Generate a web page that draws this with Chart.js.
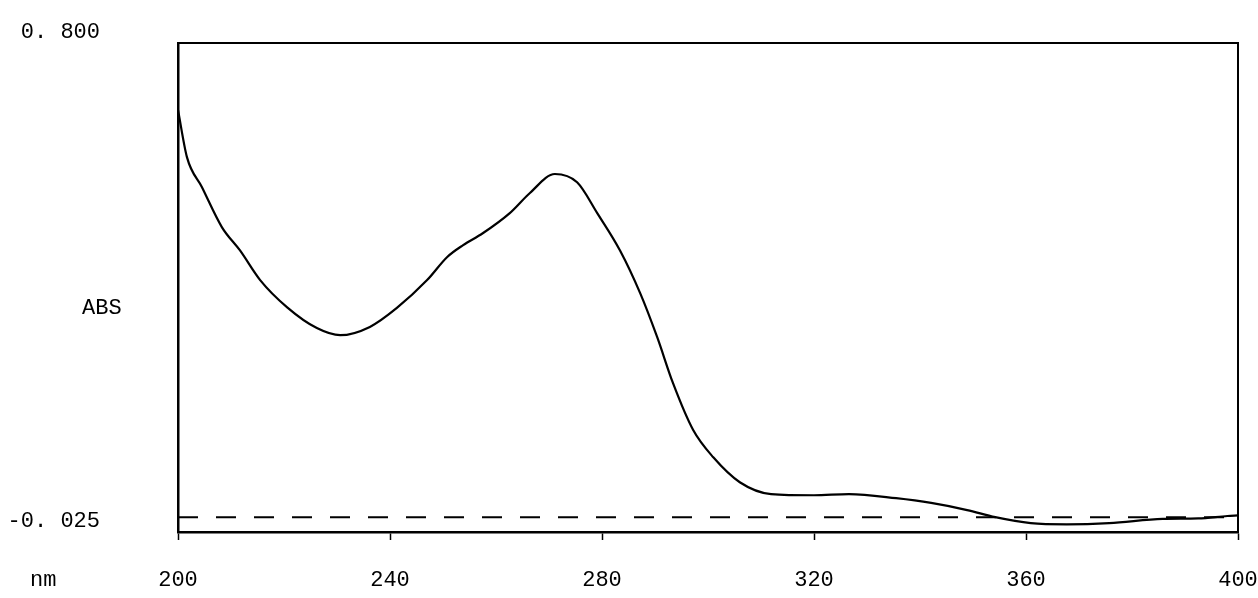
<!DOCTYPE html>
<html>
<head>
<meta charset="utf-8">
<script src="https://cdn.jsdelivr.net/npm/chart.js@4.4.1/dist/chart.umd.min.js"></script>
<style>
  html, body { margin: 0; padding: 0; background: #fff; }
  #wrap { width: 1258px; height: 598px; }
</style>
</head>
<body>
<div id="wrap"><canvas id="spectro"></canvas></div>
<script>
const longueurs = [200, 201.7, 204.5, 208.3, 211.7, 215.5, 220.6, 226.2, 230.6, 236.2, 241.3, 247, 250.8, 253.8, 257.5, 262.6, 266.4, 271.1, 275.3, 279.1, 283.4, 287.2, 290.4, 293.4, 297.2, 301, 306, 311.9, 320, 326.6, 335.5, 342.1, 348.9, 354.2, 360.9, 367.7, 375.7, 385.8, 392.5, 398, 400];
const absorbance = [0.687, 0.607, 0.557, 0.489, 0.45, 0.4, 0.354, 0.319, 0.307, 0.321, 0.353, 0.4, 0.439, 0.459, 0.479, 0.513, 0.547, 0.579, 0.565, 0.513, 0.45, 0.378, 0.304, 0.226, 0.147, 0.101, 0.059, 0.039, 0.037, 0.039, 0.032, 0.024, 0.012, 0.0, -0.01, -0.012, -0.01, -0.003, -0.002, 0.002, 0.003];
const ligneBase = [0, 0];
const ticksX = [200, 240, 280, 320, 360, 400];
const ticksY = [-0.025, 0.8];
const rotulosY = { "-0.025": "-0. 025", "0.8": "0. 800" };

const fonte = { family: "'Liberation Mono', 'DejaVu Sans Mono', monospace", size: 22 };

const moldura = {
  id: 'moldura',
  afterDraw(chart) {
    const { ctx, chartArea: a } = chart;
    ctx.save();
    ctx.strokeStyle = '#000';
    ctx.lineWidth = 2;
    ctx.beginPath();
    ctx.moveTo(a.left, a.top);
    ctx.lineTo(a.right, a.top);
    ctx.lineTo(a.right, a.bottom);
    ctx.stroke();
    ctx.fillStyle = '#000';
    ctx.font = fonte.size + "px " + fonte.family;
    ctx.textBaseline = 'middle';
    ctx.textAlign = 'left';
    ctx.fillText('ABS', 82, 308);
    ctx.fillText('nm', 30, 580);
    ctx.restore();
  }
};

const pontos = longueurs.map((x, i) => ({ x, y: absorbance[i] }));

new Chart(document.getElementById('spectro'), {
  type: 'line',
  data: {
    datasets: [
      {
        data: pontos,
        borderColor: '#000',
        borderWidth: 2.2,
        pointRadius: 0,
        cubicInterpolationMode: 'monotone'
      },
      {
        data: [{ x: 200, y: ligneBase[0] }, { x: 400, y: ligneBase[1] }],
        borderColor: '#000',
        borderWidth: 2,
        borderDash: [20, 18],
        pointRadius: 0
      }
    ]
  },
  options: {
    responsive: true,
    maintainAspectRatio: false,
    animation: false,
    layout: { padding: { left: 0, top: 43, right: 20, bottom: 0 } },
    plugins: { legend: { display: false }, tooltip: { enabled: false } },
    scales: {
      x: {
        type: 'linear',
        min: 200,
        max: 400,
        afterBuildTicks: s => { s.ticks = ticksX.map(v => ({ value: v })); },
        afterFit: s => { s.height = 66; s.paddingLeft = 0; s.paddingRight = 0; },
        grid: { drawOnChartArea: false, color: '#000', tickLength: 8, tickWidth: 1.5 },
        border: { color: '#000', width: 2.5 },
        ticks: { color: '#000', font: fonte, padding: 27, maxRotation: 0 }
      },
      y: {
        min: -0.025,
        max: 0.8,
        afterBuildTicks: s => { s.ticks = ticksY.map(v => ({ value: v })); },
        afterFit: s => { s.width = 178; s.paddingTop = 0; s.paddingBottom = 0; },
        grid: { display: true, drawOnChartArea: false, drawTicks: false },
        border: { color: '#000', width: 2.5 },
        ticks: {
          color: '#000',
          font: fonte,
          padding: 78,
          labelOffset: -11,
          callback: v => rotulosY[String(v)] || ''
        }
      }
    }
  },
  plugins: [moldura]
});
</script>
</body>
</html>
